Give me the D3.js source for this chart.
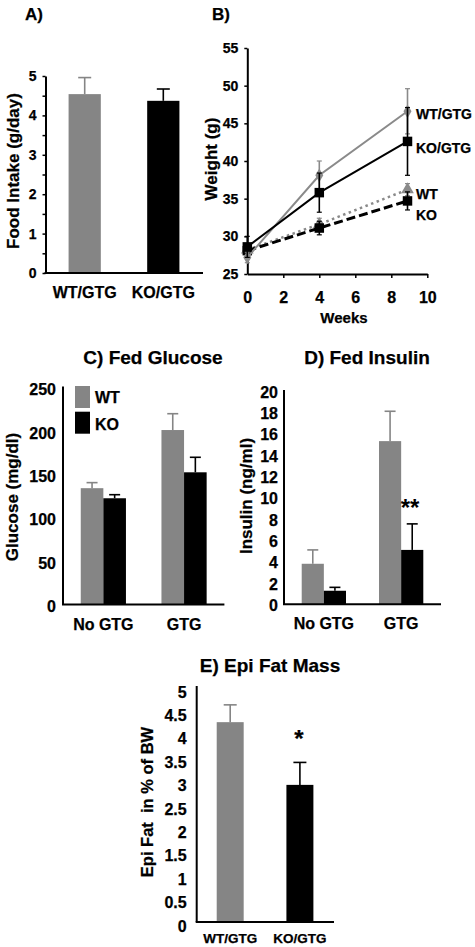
<!DOCTYPE html>
<html><head><meta charset="utf-8">
<script src="https://cdn.jsdelivr.net/npm/d3@7"></script>
<style>
body{margin:0;background:#fff}
text{font-family:"Liberation Sans",Arial,Helvetica,sans-serif;font-weight:bold;fill:#000;stroke:#000;stroke-width:0.25px}
</style>
</head><body>
<svg id="c" width="475" height="947"></svg>
<script>
// ---------- data ----------
const foodCats = ["WT/GTG", "KO/GTG"];
const foodVals = [4.54, 4.37];
const foodErr = [0.42, 0.30];

const weeks = [0, 4, 8.9];
const weekTicks = [0, 2, 4, 6, 8, 10];
const weightTicks = [25, 30, 35, 40, 45, 50, 55];
const wtGtgW = [27.2, 38.1, 46.6];
const wtGtgErr = [0.7, 1.9, 3.0];
const koGtgW = [28.6, 35.8, 42.6];
const koGtgErr = [1.4, 2.6, 4.5];
const wtW = [28.2, 31.6, 36.2];
const wtErr = [0.8, 0.8, 0.8];
const koW = [28.1, 31.1, 34.7];
const koErr = [0.9, 0.9, 1.2];

const groupCats = ["No GTG", "GTG"];
const genotypes = ["WT", "KO"];
const glucoseWT = [134, 201];
const glucoseWTErr = [6.4, 18.8];
const glucoseKO = [122.4, 152.3];
const glucoseKOErr = [4.1, 17.3];
const glucoseTicks = [0, 50, 100, 150, 200, 250];

const insulinWT = [3.8, 15.3];
const insulinWTErr = [1.3, 2.8];
const insulinKO = [1.27, 5.1];
const insulinKOErr = [0.32, 2.44];
const insulinTicks = [0, 2, 4, 6, 8, 10, 12, 14, 16, 18, 20];

const fatCats = ["WT/GTG", "KO/GTG"];
const fatVals = [4.27, 2.93];
const fatErr = [0.37, 0.48];
const fatTicks = [0, 0.5, 1, 1.5, 2, 2.5, 3, 3.5, 4, 4.5, 5];

// ---------- helpers ----------
const GRAY = "#858585";
const colorOf = g => g === "WT" ? GRAY : "#000";
const svg = d3.select("#c");

function styleAxis(g, fs, dy) {
  g.select(".domain").attr("stroke", "#000").attr("stroke-width", 2);
  g.selectAll(".tick line").attr("stroke", "#000").attr("stroke-width", 1.5);
  g.selectAll(".tick text").attr("font-size", fs + "px")
    .attr("font-family", "'Liberation Sans',Arial,sans-serif")
    .attr("font-weight", "bold").attr("fill", "#000");
  if (dy) g.selectAll(".tick text").attr("transform", `translate(0,${dy})`);
}
function hline(x1, x2, y) {
  svg.append("line").attr("x1", x1).attr("x2", x2).attr("y1", y).attr("y2", y)
    .attr("stroke", "#000").attr("stroke-width", 2);
}
function errUp(cx, y0, y1, color, cap) {
  svg.append("line").attr("x1", cx).attr("x2", cx).attr("y1", y0).attr("y2", y1)
    .attr("stroke", color).attr("stroke-width", 1.6);
  svg.append("line").attr("x1", cx - cap / 2).attr("x2", cx + cap / 2).attr("y1", y1).attr("y2", y1)
    .attr("stroke", color).attr("stroke-width", 1.6);
}
function text(x, y, s, fs, anchor, rot, extra) {
  const t = svg.append("text").attr("font-size", fs + "px").attr("text-anchor", anchor || "start").text(s);
  if (rot) t.attr("transform", `translate(${x},${y}) rotate(${rot})`);
  else t.attr("x", x).attr("y", y);
  if (extra) extra(t);
  return t;
}

// ---------- Panel A ----------
{
  const y = d3.scaleLinear().domain([0, 5]).range([273, 76]);
  const x = d3.scaleBand().domain(foodCats).range([45, 203]).paddingInner(0.59).paddingOuter(0.3);
  foodCats.forEach((c, i) => {
    const col = i === 0 ? GRAY : "#000";
    errUp(x(c) + x.bandwidth() / 2, y(foodVals[i]), y(foodVals[i] + foodErr[i]), col, 13);
    svg.append("rect").attr("x", x(c)).attr("width", x.bandwidth())
      .attr("y", y(foodVals[i])).attr("height", y(0) - y(foodVals[i])).attr("fill", col);
  });
  const ax = svg.append("g").attr("transform", "translate(45.5,0)")
    .call(d3.axisLeft(y).tickValues(d3.range(0, 5.01, 0.5)).tickSize(3).tickSizeOuter(0).tickPadding(6)
      .tickFormat(d => Number.isInteger(d) ? d : ""));
  styleAxis(ax, 14);
  hline(44.5, 203, 273);
  foodCats.forEach(c => text(x(c) + x.bandwidth() / 2, 298, c, 16, "middle"));
  text(25, 20, "A)", 17);
  text(19, 171, "Food Intake (g/day)", 17, "middle", -90);
}

// ---------- Panel B ----------
{
  const x = d3.scaleLinear().domain([0, 10]).range([247.3, 427.3]);
  const y = d3.scaleLinear().domain([25, 55]).range([274, 48]);
  const ay = svg.append("g").attr("transform", "translate(247.3,0)")
    .call(d3.axisLeft(y).tickValues(weightTicks).tickSize(3).tickSizeOuter(0).tickPadding(6));
  styleAxis(ay, 14);
  const axx = svg.append("g").attr("transform", "translate(0,274)")
    .call(d3.axisBottom(x).tickValues(weekTicks).tickSize(4).tickSizeOuter(0).tickPadding(14));
  styleAxis(axx, 16);
  axx.selectAll(".tick line").filter(d => d === 0).remove();

  const series = [
    {v: wtW, e: wtErr, col: "#8a8a8a", dash: "2.5,3.5", w: 2.5, sym: d3.symbolTriangle, size: 70},
    {v: koW, e: koErr, col: "#000", dash: "9,4", w: 3, sym: d3.symbolSquare, size: 90},
    {v: wtGtgW, e: wtGtgErr, col: "#8a8a8a", dash: null, w: 2, sym: d3.symbolDiamond, size: 55},
    {v: koGtgW, e: koGtgErr, col: "#000", dash: null, w: 2, sym: d3.symbolSquare, size: 90}
  ];
  const line = d3.line().x((d, i) => x(weeks[i])).y(d => y(d));
  series.forEach(s => {
    s.v.forEach((v, i) => {
      const cx = x(weeks[i]);
      svg.append("line").attr("x1", cx).attr("x2", cx).attr("y1", y(v - s.e[i])).attr("y2", y(v + s.e[i]))
        .attr("stroke", s.col).attr("stroke-width", 1.6);
      [v - s.e[i], v + s.e[i]].forEach(e => svg.append("line").attr("x1", cx - 2.5).attr("x2", cx + 2.5)
        .attr("y1", y(e)).attr("y2", y(e)).attr("stroke", s.col).attr("stroke-width", 1.2));
    });
    const p = svg.append("path").datum(s.v).attr("d", line).attr("fill", "none")
      .attr("stroke", s.col).attr("stroke-width", s.w);
    if (s.dash) p.attr("stroke-dasharray", s.dash);
    s.v.forEach((v, i) => svg.append("path").attr("d", d3.symbol(s.sym, s.size)())
      .attr("transform", `translate(${x(weeks[i])},${y(v)})`).attr("fill", s.col));
  });
  text(416, 119, "WT/GTG", 14);
  text(416, 153, "KO/GTG", 14);
  text(416, 199, "WT", 14);
  text(416, 220, "KO", 14);
  text(344, 323, "Weeks", 15, "middle");
  text(217, 159, "Weight (g)", 17, "middle", -90);
  text(212, 20, "B)", 17);
}

// ---------- grouped bar panels C and D ----------
function grouped(cfg) {
  const y = d3.scaleLinear().domain(cfg.domain).range(cfg.yRange);
  const x = d3.scaleBand().domain(groupCats).range(cfg.xRange).paddingInner(cfg.pi).paddingOuter(cfg.po);
  const xs = d3.scaleBand().domain(genotypes).range([0, x.bandwidth()]);
  groupCats.forEach((gc, i) => {
    genotypes.forEach(g => {
      const v = cfg.vals[g][i], e = cfg.errs[g][i];
      const bx = x(gc) + xs(g);
      errUp(bx + xs.bandwidth() / 2, y(v), y(v + e), colorOf(g), 11);
      svg.append("rect").attr("x", bx).attr("width", xs.bandwidth())
        .attr("y", y(v)).attr("height", y(0) - y(v)).attr("fill", colorOf(g));
    });
  });
  const ax = svg.append("g").attr("transform", `translate(${cfg.xRange[0]},0)`)
    .call(d3.axisLeft(y).tickValues(cfg.ticks).tickSize(0).tickPadding(cfg.pad));
  styleAxis(ax, 16, cfg.dy);
  ax.select(".domain").attr("d", `M0,${y(0)}V${cfg.yRange[1] - 1}`);
  hline(cfg.xRange[0] - 1, cfg.xRange[1], y(0));
  groupCats.forEach(gc => text(x(gc) + x.bandwidth() / 2, cfg.labelY, gc, 16, "middle"));
  text(cfg.titleX, 364, cfg.title, 19, "middle");
  text(cfg.yTitleX, cfg.yTitleY, cfg.yTitle, 17, "middle", -90);
  return {x, xs, y};
}

{
  grouped({
    domain: [0, 250], yRange: [604.5, 387.5], xRange: [63, 224.4], pi: 0.44, po: 0.22,
    vals: {WT: glucoseWT, KO: glucoseKO}, errs: {WT: glucoseWTErr, KO: glucoseKOErr},
    ticks: glucoseTicks, pad: 7, dy: 2, labelY: 630,
    title: "C) Fed Glucose", titleX: 153, yTitle: "Glucose (mg/dl)", yTitleX: 18, yTitleY: 497
  });
  genotypes.forEach((g, i) => {
    svg.append("rect").attr("x", 75).attr("y", 386 + i * 25.7).attr("width", 15).attr("height", 22)
      .attr("fill", colorOf(g));
    text(95, 403 + i * 27, g, 16);
  });
}
{
  grouped({
    domain: [0, 20], yRange: [604.3, 391], xRange: [284, 441], pi: 0.427, po: 0.229,
    vals: {WT: insulinWT, KO: insulinKO}, errs: {WT: insulinWTErr, KO: insulinKOErr},
    ticks: insulinTicks, pad: 6, dy: 1, labelY: 629,
    title: "D) Fed Insulin", titleX: 367, yTitle: "Insulin (ng/ml)", yTitleX: 252, yTitleY: 496
  });
  text(410, 516, "**", 24, "middle", 0, t => t.attr("font-weight", "normal").style("stroke-width", "0px"));
}

// ---------- Panel E ----------
{
  const y = d3.scaleLinear().domain([0, 5]).range([922, 688]);
  const x = d3.scaleBand().domain(fatCats).range([196.7, 333.4]).paddingInner(0.613).paddingOuter(0.287);
  fatCats.forEach((c, i) => {
    const col = i === 0 ? GRAY : "#000";
    errUp(x(c) + x.bandwidth() / 2, y(fatVals[i]), y(fatVals[i] + fatErr[i]), col, 13);
    svg.append("rect").attr("x", x(c)).attr("width", x.bandwidth())
      .attr("y", y(fatVals[i])).attr("height", y(0) - y(fatVals[i])).attr("fill", col);
  });
  const ax = svg.append("g").attr("transform", "translate(196.7,0)")
    .call(d3.axisLeft(y).tickValues(fatTicks).tickSize(0).tickPadding(10).tickFormat(d => String(d)));
  styleAxis(ax, 16, 4);
  ax.select(".domain").attr("d", `M0,922V686`);
  hline(195.7, 334, 922);
  fatCats.forEach(c => text(x(c) + x.bandwidth() / 2, 943, c, 13.5, "middle"));
  text(270, 672, "E) Epi Fat Mass", 19, "middle");
  text(153, 802, "Epi Fat  in % of BW", 16.5, "middle", -90, t => t.attr("xml:space", "preserve").style("white-space", "pre"));
  text(299, 747, "*", 24, "middle");
}
</script>
</body></html>
